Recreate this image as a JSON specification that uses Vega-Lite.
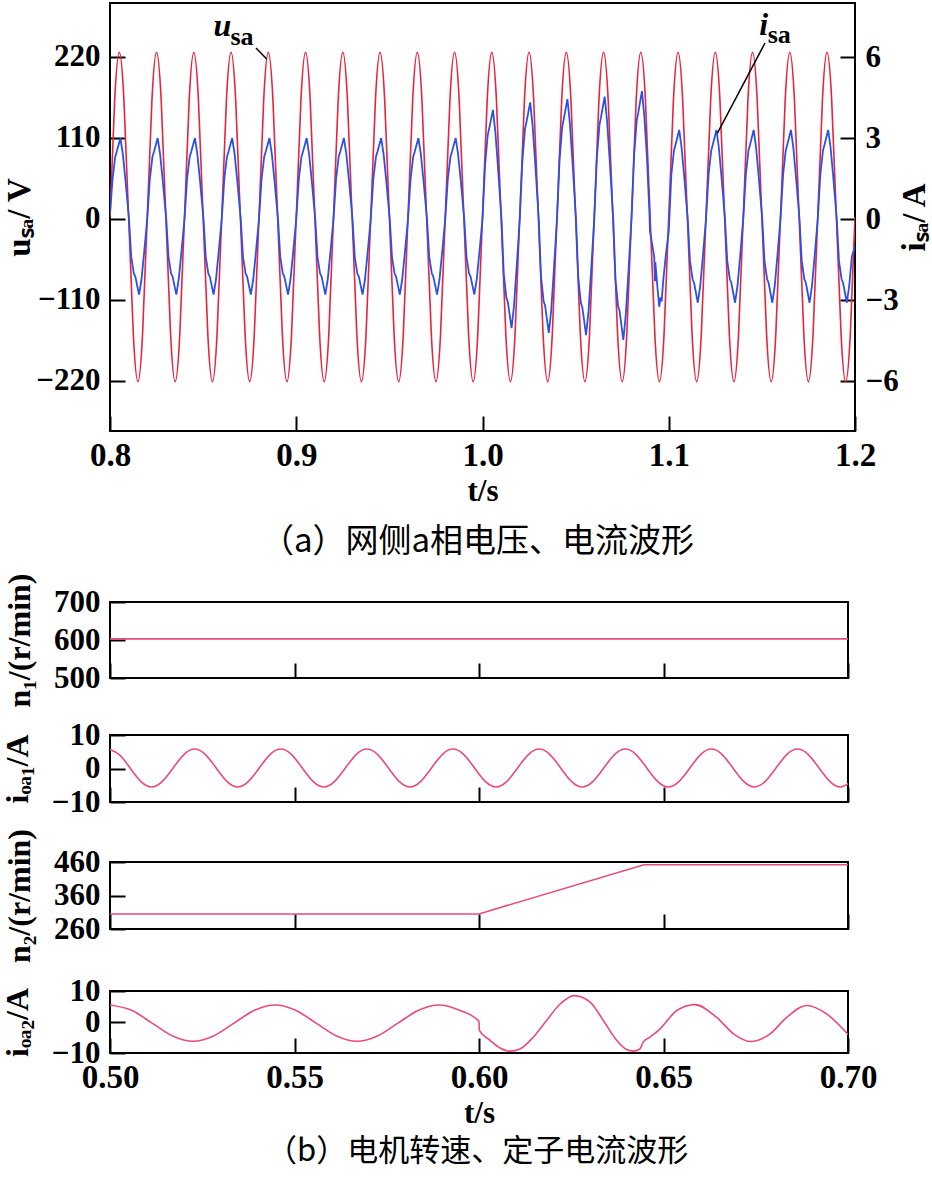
{
  "$schema": "https://vega.github.io/schema/vega-lite/v6.json",
  "background": "white",
  "padding": {"left": 0, "top": 2, "right": 4, "bottom": 0},
  "config": {
    "view": {"stroke": "#000", "strokeWidth": 2},
    "axis": {"domain": false, "grid": false, "tickSize": -15, "tickWidth": 2, "tickColor": "#000", "labelFont": "Liberation Serif", "labelFontWeight": "bold", "labelColor": "#000", "labelOverlap": false, "labelFlush": false, "titleFont": "Liberation Serif", "titleFontWeight": "bold", "titleColor": "#000"},
    "axisX": {"labelFontSize": 33, "labelPadding": 23, "titleFontSize": 31, "titlePadding": 4},
    "axisY": {"labelFontSize": 31, "labelPadding": 25, "titleFontSize": 32},
    "title": {"font": "Noto Sans CJK SC", "fontSize": 33, "fontWeight": "normal", "color": "#000", "anchor": "middle"}
  },
  "datasets": {
    "volt": [
      {"t":0.8,"u":2.5},{"t":0.8025,"u":160.5},{"t":0.805,"u":226},{"t":0.8075,"u":160.5},{"t":0.81,"u":2.5},{"t":0.8125,"u":-155.5},{"t":0.815,"u":-221},{"t":0.8175,"u":-155.5},
      {"t":0.82,"u":2.5},{"t":0.8225,"u":160.5},{"t":0.825,"u":226},{"t":0.8275,"u":160.5},{"t":0.83,"u":2.5},{"t":0.8325,"u":-155.5},{"t":0.835,"u":-221},{"t":0.8375,"u":-155.5},
      {"t":0.84,"u":2.5},{"t":0.8425,"u":160.5},{"t":0.845,"u":226},{"t":0.8475,"u":160.5},{"t":0.85,"u":2.5},{"t":0.8525,"u":-155.5},{"t":0.855,"u":-221},{"t":0.8575,"u":-155.5},
      {"t":0.86,"u":2.5},{"t":0.8625,"u":160.5},{"t":0.865,"u":226},{"t":0.8675,"u":160.5},{"t":0.87,"u":2.5},{"t":0.8725,"u":-155.5},{"t":0.875,"u":-221},{"t":0.8775,"u":-155.5},
      {"t":0.88,"u":2.5},{"t":0.8825,"u":160.5},{"t":0.885,"u":226},{"t":0.8875,"u":160.5},{"t":0.89,"u":2.5},{"t":0.8925,"u":-155.5},{"t":0.895,"u":-221},{"t":0.8975,"u":-155.5},
      {"t":0.9,"u":2.5},{"t":0.9025,"u":160.5},{"t":0.905,"u":226},{"t":0.9075,"u":160.5},{"t":0.91,"u":2.5},{"t":0.9125,"u":-155.5},{"t":0.915,"u":-221},{"t":0.9175,"u":-155.5},
      {"t":0.92,"u":2.5},{"t":0.9225,"u":160.5},{"t":0.925,"u":226},{"t":0.9275,"u":160.5},{"t":0.93,"u":2.5},{"t":0.9325,"u":-155.5},{"t":0.935,"u":-221},{"t":0.9375,"u":-155.5},
      {"t":0.94,"u":2.5},{"t":0.9425,"u":160.5},{"t":0.945,"u":226},{"t":0.9475,"u":160.5},{"t":0.95,"u":2.5},{"t":0.9525,"u":-155.5},{"t":0.955,"u":-221},{"t":0.9575,"u":-155.5},
      {"t":0.96,"u":2.5},{"t":0.9625,"u":160.5},{"t":0.965,"u":226},{"t":0.9675,"u":160.5},{"t":0.97,"u":2.5},{"t":0.9725,"u":-155.5},{"t":0.975,"u":-221},{"t":0.9775,"u":-155.5},
      {"t":0.98,"u":2.5},{"t":0.9825,"u":160.5},{"t":0.985,"u":226},{"t":0.9875,"u":160.5},{"t":0.99,"u":2.5},{"t":0.9925,"u":-155.5},{"t":0.995,"u":-221},{"t":0.9975,"u":-155.5},
      {"t":1.0,"u":2.5},{"t":1.0025,"u":160.5},{"t":1.005,"u":226},{"t":1.0075,"u":160.5},{"t":1.01,"u":2.5},{"t":1.0125,"u":-155.5},{"t":1.015,"u":-221},{"t":1.0175,"u":-155.5},
      {"t":1.02,"u":2.5},{"t":1.0225,"u":160.5},{"t":1.025,"u":226},{"t":1.0275,"u":160.5},{"t":1.03,"u":2.5},{"t":1.0325,"u":-155.5},{"t":1.035,"u":-221},{"t":1.0375,"u":-155.5},
      {"t":1.04,"u":2.5},{"t":1.0425,"u":160.5},{"t":1.045,"u":226},{"t":1.0475,"u":160.5},{"t":1.05,"u":2.5},{"t":1.0525,"u":-155.5},{"t":1.055,"u":-221},{"t":1.0575,"u":-155.5},
      {"t":1.06,"u":2.5},{"t":1.0625,"u":160.5},{"t":1.065,"u":226},{"t":1.0675,"u":160.5},{"t":1.07,"u":2.5},{"t":1.0725,"u":-155.5},{"t":1.075,"u":-221},{"t":1.0775,"u":-155.5},
      {"t":1.08,"u":2.5},{"t":1.0825,"u":160.5},{"t":1.085,"u":226},{"t":1.0875,"u":160.5},{"t":1.09,"u":2.5},{"t":1.0925,"u":-155.5},{"t":1.095,"u":-221},{"t":1.0975,"u":-155.5},
      {"t":1.1,"u":2.5},{"t":1.1025,"u":160.5},{"t":1.105,"u":226},{"t":1.1075,"u":160.5},{"t":1.11,"u":2.5},{"t":1.1125,"u":-155.5},{"t":1.115,"u":-221},{"t":1.1175,"u":-155.5},
      {"t":1.12,"u":2.5},{"t":1.1225,"u":160.5},{"t":1.125,"u":226},{"t":1.1275,"u":160.5},{"t":1.13,"u":2.5},{"t":1.1325,"u":-155.5},{"t":1.135,"u":-221},{"t":1.1375,"u":-155.5},
      {"t":1.14,"u":2.5},{"t":1.1425,"u":160.5},{"t":1.145,"u":226},{"t":1.1475,"u":160.5},{"t":1.15,"u":2.5},{"t":1.1525,"u":-155.5},{"t":1.155,"u":-221},{"t":1.1575,"u":-155.5},
      {"t":1.16,"u":2.5},{"t":1.1625,"u":160.5},{"t":1.165,"u":226},{"t":1.1675,"u":160.5},{"t":1.17,"u":2.5},{"t":1.1725,"u":-155.5},{"t":1.175,"u":-221},{"t":1.1775,"u":-155.5},
      {"t":1.18,"u":2.5},{"t":1.1825,"u":160.5},{"t":1.185,"u":226},{"t":1.1875,"u":160.5},{"t":1.19,"u":2.5},{"t":1.1925,"u":-155.5},{"t":1.195,"u":-221},{"t":1.1975,"u":-155.5},
      {"t":1.2,"u":2.5}
    ],
    "curr": [
      {"t":0.8,"i":0.2},{"t":0.8014,"i":1.5},{"t":0.8028,"i":2.31},{"t":0.8036,"i":2.49},{"t":0.8056,"i":3.0},{"t":0.8069,"i":2.4},{"t":0.8083,"i":1.44},{"t":0.8102,"i":0},{"t":0.8114,"i":-1.4},{"t":0.8128,"i":-2.02},{"t":0.8136,"i":-2.13},{"t":0.8156,"i":-2.8},{"t":0.8169,"i":-2.24},{"t":0.8183,"i":-1.26},
      {"t":0.82,"i":0},{"t":0.8214,"i":1.5},{"t":0.8228,"i":2.31},{"t":0.8236,"i":2.49},{"t":0.8256,"i":3.0},{"t":0.8269,"i":2.4},{"t":0.8283,"i":1.44},{"t":0.8302,"i":0},{"t":0.8314,"i":-1.4},{"t":0.8328,"i":-2.02},{"t":0.8336,"i":-2.13},{"t":0.8356,"i":-2.8},{"t":0.8369,"i":-2.24},{"t":0.8383,"i":-1.26},
      {"t":0.84,"i":0},{"t":0.8414,"i":1.5},{"t":0.8428,"i":2.31},{"t":0.8436,"i":2.49},{"t":0.8456,"i":3.0},{"t":0.8469,"i":2.4},{"t":0.8483,"i":1.44},{"t":0.8502,"i":0},{"t":0.8514,"i":-1.4},{"t":0.8528,"i":-2.02},{"t":0.8536,"i":-2.13},{"t":0.8556,"i":-2.8},{"t":0.8569,"i":-2.24},{"t":0.8583,"i":-1.26},
      {"t":0.86,"i":0},{"t":0.8614,"i":1.5},{"t":0.8628,"i":2.31},{"t":0.8636,"i":2.49},{"t":0.8656,"i":3.0},{"t":0.8669,"i":2.4},{"t":0.8683,"i":1.44},{"t":0.8702,"i":0},{"t":0.8714,"i":-1.4},{"t":0.8728,"i":-2.02},{"t":0.8736,"i":-2.13},{"t":0.8756,"i":-2.8},{"t":0.8769,"i":-2.24},{"t":0.8783,"i":-1.26},
      {"t":0.88,"i":0},{"t":0.8814,"i":1.5},{"t":0.8828,"i":2.31},{"t":0.8836,"i":2.49},{"t":0.8856,"i":3.0},{"t":0.8869,"i":2.4},{"t":0.8883,"i":1.44},{"t":0.8902,"i":0},{"t":0.8914,"i":-1.4},{"t":0.8928,"i":-2.02},{"t":0.8936,"i":-2.13},{"t":0.8956,"i":-2.8},{"t":0.8969,"i":-2.24},{"t":0.8983,"i":-1.26},
      {"t":0.9,"i":0},{"t":0.9014,"i":1.5},{"t":0.9028,"i":2.31},{"t":0.9036,"i":2.49},{"t":0.9056,"i":3.0},{"t":0.9069,"i":2.4},{"t":0.9083,"i":1.44},{"t":0.9102,"i":0},{"t":0.9114,"i":-1.4},{"t":0.9128,"i":-2.02},{"t":0.9136,"i":-2.13},{"t":0.9156,"i":-2.8},{"t":0.9169,"i":-2.24},{"t":0.9183,"i":-1.26},
      {"t":0.92,"i":0},{"t":0.9214,"i":1.5},{"t":0.9228,"i":2.31},{"t":0.9236,"i":2.49},{"t":0.9256,"i":3.0},{"t":0.9269,"i":2.4},{"t":0.9283,"i":1.44},{"t":0.9302,"i":0},{"t":0.9314,"i":-1.4},{"t":0.9328,"i":-2.02},{"t":0.9336,"i":-2.13},{"t":0.9356,"i":-2.8},{"t":0.9369,"i":-2.24},{"t":0.9383,"i":-1.26},
      {"t":0.94,"i":0},{"t":0.9414,"i":1.5},{"t":0.9428,"i":2.31},{"t":0.9436,"i":2.49},{"t":0.9456,"i":3.0},{"t":0.9469,"i":2.4},{"t":0.9483,"i":1.44},{"t":0.9502,"i":0},{"t":0.9514,"i":-1.4},{"t":0.9528,"i":-2.02},{"t":0.9536,"i":-2.13},{"t":0.9556,"i":-2.8},{"t":0.9569,"i":-2.24},{"t":0.9583,"i":-1.26},
      {"t":0.96,"i":0},{"t":0.9614,"i":1.5},{"t":0.9628,"i":2.31},{"t":0.9636,"i":2.49},{"t":0.9656,"i":3.0},{"t":0.9669,"i":2.4},{"t":0.9683,"i":1.44},{"t":0.9702,"i":0},{"t":0.9714,"i":-1.4},{"t":0.9728,"i":-2.02},{"t":0.9736,"i":-2.13},{"t":0.9756,"i":-2.8},{"t":0.9769,"i":-2.24},{"t":0.9783,"i":-1.26},
      {"t":0.98,"i":0},{"t":0.9814,"i":1.5},{"t":0.9828,"i":2.31},{"t":0.9836,"i":2.49},{"t":0.9856,"i":3.0},{"t":0.9869,"i":2.4},{"t":0.9883,"i":1.44},{"t":0.9902,"i":0},{"t":0.9914,"i":-1.4},{"t":0.9928,"i":-2.02},{"t":0.9936,"i":-2.13},{"t":0.9956,"i":-2.8},{"t":0.9969,"i":-2.24},{"t":0.9983,"i":-1.26},
      {"t":1.0,"i":0},{"t":1.0014,"i":2.02},{"t":1.0028,"i":3.11},{"t":1.0036,"i":3.35},{"t":1.0056,"i":4.04},{"t":1.0069,"i":3.23},{"t":1.0083,"i":1.94},{"t":1.0102,"i":0},{"t":1.0114,"i":-2.02},{"t":1.0128,"i":-2.91},{"t":1.0136,"i":-3.07},{"t":1.0156,"i":-4.04},{"t":1.0169,"i":-3.23},{"t":1.0183,"i":-1.82},
      {"t":1.02,"i":0},{"t":1.0214,"i":2.16},{"t":1.0228,"i":3.33},{"t":1.0236,"i":3.59},{"t":1.0256,"i":4.32},{"t":1.0269,"i":3.46},{"t":1.0283,"i":2.07},{"t":1.0302,"i":0},{"t":1.0314,"i":-2.11},{"t":1.0328,"i":-3.04},{"t":1.0336,"i":-3.21},{"t":1.0356,"i":-4.22},{"t":1.0369,"i":-3.38},{"t":1.0383,"i":-1.9},
      {"t":1.04,"i":0},{"t":1.0414,"i":2.22},{"t":1.0428,"i":3.42},{"t":1.0436,"i":3.69},{"t":1.0456,"i":4.44},{"t":1.0469,"i":3.55},{"t":1.0483,"i":2.13},{"t":1.0502,"i":0},{"t":1.0514,"i":-2.15},{"t":1.0528,"i":-3.1},{"t":1.0536,"i":-3.27},{"t":1.0556,"i":-4.3},{"t":1.0569,"i":-3.44},{"t":1.0583,"i":-1.94},
      {"t":1.06,"i":0},{"t":1.0614,"i":2.27},{"t":1.0628,"i":3.49},{"t":1.0636,"i":3.76},{"t":1.0656,"i":4.53},{"t":1.0669,"i":3.62},{"t":1.0683,"i":2.17},{"t":1.0702,"i":0},{"t":1.0714,"i":-2.24},{"t":1.0728,"i":-3.23},{"t":1.0736,"i":-3.4},{"t":1.0756,"i":-4.48},{"t":1.0769,"i":-3.58},{"t":1.0783,"i":-2.02},
      {"t":1.08,"i":0},{"t":1.0814,"i":2.37},{"t":1.0828,"i":3.65},{"t":1.0836,"i":3.93},{"t":1.0856,"i":4.74},{"t":1.0869,"i":3.79},{"t":1.0883,"i":2.28},{"t":1.0897,"i":0.1},{"t":1.0899,"i":-0.45},{"t":1.091,"i":-0.9},{"t":1.0922,"i":-1.4},{"t":1.0926,"i":-2.3},{"t":1.0928,"i":-1.6},{"t":1.094,"i":-2.6},{"t":1.0949,"i":-3.25},{"t":1.0956,"i":-2.9},{"t":1.0962,"i":-3.05},{"t":1.097,"i":-2.3},{"t":1.0985,"i":-1.3},
      {"t":1.1,"i":-0.45},{"t":1.1014,"i":1.65},{"t":1.1028,"i":2.54},{"t":1.1036,"i":2.74},{"t":1.1056,"i":3.3},{"t":1.1069,"i":2.64},{"t":1.1083,"i":1.58},{"t":1.1102,"i":0},{"t":1.1114,"i":-1.55},{"t":1.1128,"i":-2.23},{"t":1.1136,"i":-2.36},{"t":1.1156,"i":-3.1},{"t":1.1169,"i":-2.48},{"t":1.1183,"i":-1.4},
      {"t":1.12,"i":0},{"t":1.1214,"i":1.65},{"t":1.1228,"i":2.54},{"t":1.1236,"i":2.74},{"t":1.1256,"i":3.3},{"t":1.1269,"i":2.64},{"t":1.1283,"i":1.58},{"t":1.1302,"i":0},{"t":1.1314,"i":-1.55},{"t":1.1328,"i":-2.23},{"t":1.1336,"i":-2.36},{"t":1.1356,"i":-3.1},{"t":1.1369,"i":-2.48},{"t":1.1383,"i":-1.4},
      {"t":1.14,"i":0},{"t":1.1414,"i":1.65},{"t":1.1428,"i":2.54},{"t":1.1436,"i":2.74},{"t":1.1456,"i":3.3},{"t":1.1469,"i":2.64},{"t":1.1483,"i":1.58},{"t":1.1502,"i":0},{"t":1.1514,"i":-1.55},{"t":1.1528,"i":-2.23},{"t":1.1536,"i":-2.36},{"t":1.1556,"i":-3.1},{"t":1.1569,"i":-2.48},{"t":1.1583,"i":-1.4},
      {"t":1.16,"i":0},{"t":1.1614,"i":1.65},{"t":1.1628,"i":2.54},{"t":1.1636,"i":2.74},{"t":1.1656,"i":3.3},{"t":1.1669,"i":2.64},{"t":1.1683,"i":1.58},{"t":1.1702,"i":0},{"t":1.1714,"i":-1.55},{"t":1.1728,"i":-2.23},{"t":1.1736,"i":-2.36},{"t":1.1756,"i":-3.1},{"t":1.1769,"i":-2.48},{"t":1.1783,"i":-1.4},
      {"t":1.18,"i":0},{"t":1.1814,"i":1.65},{"t":1.1828,"i":2.54},{"t":1.1836,"i":2.74},{"t":1.1856,"i":3.3},{"t":1.1869,"i":2.64},{"t":1.1883,"i":1.58},{"t":1.1902,"i":0},{"t":1.1914,"i":-1.55},{"t":1.1928,"i":-2.23},{"t":1.1936,"i":-2.36},{"t":1.1956,"i":-3.1},{"t":1.1969,"i":-2.48},{"t":1.1983,"i":-1.4},
      {"t":1.2,"i":-1.0}
    ],
    "ioa1": [
      {"t":0.4996,"v":5.8},{"t":0.50252,"v":4.15},{"t":0.50544,"v":0.15},{"t":0.50835,"v":-3.85},{"t":0.51127,"v":-5.5},{"t":0.51419,"v":-3.85},{"t":0.51711,"v":0.15},{"t":0.52002,"v":4.15},
      {"t":0.52294,"v":5.8},{"t":0.52586,"v":4.15},{"t":0.52878,"v":0.15},{"t":0.53169,"v":-3.85},{"t":0.53461,"v":-5.5},{"t":0.53753,"v":-3.85},{"t":0.54045,"v":0.15},{"t":0.54336,"v":4.15},
      {"t":0.54628,"v":5.8},{"t":0.5492,"v":4.15},{"t":0.55212,"v":0.15},{"t":0.55503,"v":-3.85},{"t":0.55795,"v":-5.5},{"t":0.56087,"v":-3.85},{"t":0.56379,"v":0.15},{"t":0.5667,"v":4.15},
      {"t":0.56962,"v":5.8},{"t":0.57254,"v":4.15},{"t":0.57546,"v":0.15},{"t":0.57837,"v":-3.85},{"t":0.58129,"v":-5.5},{"t":0.58421,"v":-3.85},{"t":0.58713,"v":0.15},{"t":0.59004,"v":4.15},
      {"t":0.59296,"v":5.8},{"t":0.59588,"v":4.15},{"t":0.5988,"v":0.15},{"t":0.60171,"v":-3.85},{"t":0.60463,"v":-5.5},{"t":0.60755,"v":-3.85},{"t":0.61047,"v":0.15},{"t":0.61338,"v":4.15},
      {"t":0.6163,"v":5.8},{"t":0.61922,"v":4.15},{"t":0.62214,"v":0.15},{"t":0.62505,"v":-3.85},{"t":0.62797,"v":-5.5},{"t":0.63089,"v":-3.85},{"t":0.63381,"v":0.15},{"t":0.63672,"v":4.15},
      {"t":0.63964,"v":5.8},{"t":0.64256,"v":4.15},{"t":0.64548,"v":0.15},{"t":0.64839,"v":-3.85},{"t":0.65131,"v":-5.5},{"t":0.65423,"v":-3.85},{"t":0.65715,"v":0.15},{"t":0.66006,"v":4.15},
      {"t":0.66298,"v":5.8},{"t":0.6659,"v":4.15},{"t":0.66882,"v":0.15},{"t":0.67173,"v":-3.85},{"t":0.67465,"v":-5.5},{"t":0.67757,"v":-3.85},{"t":0.68049,"v":0.15},{"t":0.6834,"v":4.15},
      {"t":0.68632,"v":5.8},{"t":0.68924,"v":4.15},{"t":0.69216,"v":0.15},{"t":0.69507,"v":-3.85},{"t":0.69799,"v":-5.5},{"t":0.70091,"v":-3.85}
    ],
    "ioa2": [
      {"t":0.5,"v":5.5},{"t":0.50585,"v":3.8},{"t":0.5114,"v":-0.35},{"t":0.51696,"v":-4.5},{"t":0.52251,"v":-6.2},{"t":0.52807,"v":-4.5},{"t":0.53362,"v":-0.35},{"t":0.53918,"v":3.8},
      {"t":0.54473,"v":5.5},{"t":0.55029,"v":3.8},{"t":0.55584,"v":-0.35},{"t":0.5614,"v":-4.5},{"t":0.56695,"v":-6.2},{"t":0.57251,"v":-4.5},{"t":0.57806,"v":-0.35},{"t":0.58362,"v":3.8},
      {"t":0.58917,"v":5.5},{"t":0.59473,"v":3.8},{"t":0.6,"v":0.2},{"t":0.6001,"v":-2.7},{"t":0.603,"v":-5.9},{"t":0.6057,"v":-8.4},{"t":0.6084,"v":-9.4},{"t":0.6111,"v":-8.7},
      {"t":0.6147,"v":-4.9},{"t":0.6183,"v":0.5},{"t":0.622,"v":5.8},{"t":0.6258,"v":8.5},{"t":0.6301,"v":6.4},{"t":0.6337,"v":0.5},{"t":0.6373,"v":-5.9},{"t":0.64,"v":-8.9},
      {"t":0.6418,"v":-9.4},{"t":0.6436,"v":-8.7},{"t":0.6445,"v":-6.5},{"t":0.6463,"v":-4.9},{"t":0.6491,"v":-2.2},{"t":0.6536,"v":3.7},{"t":0.6585,"v":5.6},{"t":0.6644,"v":1.5},
      {"t":0.669,"v":-3.8},{"t":0.6737,"v":-6.3},{"t":0.6789,"v":-3.8},{"t":0.6834,"v":1.5},{"t":0.6888,"v":5.3},{"t":0.6942,"v":2.6},{"t":0.7,"v":-4.0}
    ]
  },
  "spacing": 11,
  "vconcat": [
    {
      "width": 745,
      "height": 428,
      "title": {"text": "（a）网侧a相电压、电流波形", "orient": "bottom", "offset": 20, "dx": -5},
      "layer": [
        {
          "data": {"name": "volt"},
          "mark": {"type": "line", "color": "#e8243c", "strokeWidth": 1.6, "interpolate": "natural", "clip": true},
          "encoding": {
            "x": {"field": "t", "type": "quantitative", "scale": {"domain": [0.8, 1.2], "nice": false}, "axis": {"values": [0.8, 0.9, 1.0, 1.1, 1.2], "format": ".1f", "title": "t/s"}},
            "y": {"field": "u", "type": "quantitative", "scale": {"domain": [-288, 293], "nice": false}, "axis": {"orient": "left", "values": [-220, -110, 0, 110, 220], "title": "uₛₐ/ V", "titleFontSize": 33, "titlePadding": -1}}
          }
        },
        {
          "data": {"name": "curr"},
          "mark": {"type": "line", "color": "#2b50e8", "strokeWidth": 1.8, "clip": true},
          "encoding": {
            "x": {"field": "t", "type": "quantitative"},
            "y": {"field": "i", "type": "quantitative", "scale": {"domain": [-7.85, 8.0], "nice": false}, "axis": {"orient": "right", "values": [-6, -3, 0, 3, 6], "title": "iₛₐ/ A", "titleFontSize": 33, "titleAngle": 270, "titleBaseline": "top", "titlePadding": 0}}
          }
        },
        {
          "data": {"values": [{"t1": 0.87839, "v1": 231.8, "t2": 0.88413, "v2": 216.9}]},
          "mark": {"type": "rule", "color": "#000", "strokeWidth": 1.5},
          "encoding": {
            "x": {"field": "t1", "type": "quantitative"},
            "x2": {"field": "t2"},
            "y": {"field": "v1", "type": "quantitative", "scale": {"domain": [-288, 293], "nice": false}, "axis": null},
            "y2": {"field": "v2"}
          }
        },
        {
          "data": {"values": [{"t": 0.8604, "v": 247.6, "s": "u"}]},
          "mark": {"type": "text", "font": "Liberation Serif", "fontStyle": "italic", "fontWeight": "bold", "fontSize": 32, "align": "center", "baseline": "alphabetic", "color": "#000"},
          "encoding": {
            "x": {"field": "t", "type": "quantitative"},
            "y": {"field": "v", "type": "quantitative", "scale": {"domain": [-288, 293], "nice": false}, "axis": null},
            "text": {"field": "s"}
          }
        },
        {
          "data": {"values": [{"t": 0.87087, "v": 236.3, "s": "sa"}]},
          "mark": {"type": "text", "font": "Liberation Serif", "fontWeight": "bold", "fontSize": 26, "align": "center", "baseline": "alphabetic", "color": "#000"},
          "encoding": {
            "x": {"field": "t", "type": "quantitative"},
            "y": {"field": "v", "type": "quantitative", "scale": {"domain": [-288, 293], "nice": false}, "axis": null},
            "text": {"field": "s"}
          }
        },
        {
          "data": {"values": [{"t1": 1.15168, "v1": 6.519, "t2": 1.12607, "v2": 3.174}]},
          "mark": {"type": "rule", "color": "#000", "strokeWidth": 1.5},
          "encoding": {
            "x": {"field": "t1", "type": "quantitative"},
            "x2": {"field": "t2"},
            "y": {"field": "v1", "type": "quantitative", "scale": {"domain": [-7.85, 8.0], "nice": false}, "axis": null},
            "y2": {"field": "v2"}
          }
        },
        {
          "data": {"values": [{"t": 1.15104, "v": 6.815, "s": "i"}]},
          "mark": {"type": "text", "font": "Liberation Serif", "fontStyle": "italic", "fontWeight": "bold", "fontSize": 32, "align": "center", "baseline": "alphabetic", "color": "#000"},
          "encoding": {
            "x": {"field": "t", "type": "quantitative"},
            "y": {"field": "v", "type": "quantitative", "scale": {"domain": [-7.85, 8.0], "nice": false}, "axis": null},
            "text": {"field": "s"}
          }
        },
        {
          "data": {"values": [{"t": 1.15931, "v": 6.507, "s": "sa"}]},
          "mark": {"type": "text", "font": "Liberation Serif", "fontWeight": "bold", "fontSize": 26, "align": "center", "baseline": "alphabetic", "color": "#000"},
          "encoding": {
            "x": {"field": "t", "type": "quantitative"},
            "y": {"field": "v", "type": "quantitative", "scale": {"domain": [-7.85, 8.0], "nice": false}, "axis": null},
            "text": {"field": "s"}
          }
        }
      ],
      "resolve": {"scale": {"y": "independent"}}
    },
    {
      "title": {"text": "（b）电机转速、定子电流波形", "orient": "bottom", "offset": 8, "dx": 38, "fontSize": 31},
      "bounds": "flush",
      "spacing": 57,
      "vconcat": [
        {
          "width": 738, "height": 76,
          "data": {"values": [{"t": 0.5, "n": 603}, {"t": 0.7, "n": 603}]},
          "mark": {"type": "line", "color": "#e84c7d", "strokeWidth": 1.6, "clip": true},
          "encoding": {
            "x": {"field": "t", "type": "quantitative", "scale": {"domain": [0.5, 0.7], "nice": false}, "axis": {"values": [0.5, 0.55, 0.6, 0.65, 0.7], "labels": false, "title": null}},
            "y": {"field": "n", "type": "quantitative", "scale": {"domain": [500, 700], "nice": false}, "axis": {"values": [500, 600, 700], "title": "n₁/(r/min)", "titlePadding": 17}}
          }
        },
        {
          "bounds": "flush",
          "spacing": 60,
          "vconcat": [
            {
              "width": 738, "height": 67,
              "data": {"name": "ioa1"},
              "mark": {"type": "line", "color": "#e84c7d", "strokeWidth": 1.6, "interpolate": "natural", "clip": true},
              "encoding": {
                "x": {"field": "t", "type": "quantitative", "scale": {"domain": [0.5, 0.7], "nice": false}, "axis": {"values": [0.5, 0.55, 0.6, 0.65, 0.7], "labels": false, "title": null}},
                "y": {"field": "v", "type": "quantitative", "scale": {"domain": [-10, 10], "nice": false}, "axis": {"values": [-10, 0, 10], "title": "iₒₐ₁/A", "titlePadding": 17}}
              }
            },
            {
              "bounds": "flush",
              "spacing": 62,
              "vconcat": [
                {
                  "width": 738, "height": 67,
                  "data": {"values": [{"t": 0.5, "n": 305}, {"t": 0.6, "n": 305}, {"t": 0.6447, "n": 452}, {"t": 0.7, "n": 452}]},
                  "mark": {"type": "line", "color": "#e84c7d", "strokeWidth": 1.6, "clip": true},
                  "encoding": {
                    "x": {"field": "t", "type": "quantitative", "scale": {"domain": [0.5, 0.7], "nice": false}, "axis": {"values": [0.5, 0.55, 0.6, 0.65, 0.7], "labels": false, "title": null}},
                    "y": {"field": "n", "type": "quantitative", "scale": {"domain": [260, 460], "nice": false}, "axis": {"values": [260, 360, 460], "title": "n₂/(r/min)", "titlePadding": 17}}
                  }
                },
                {
                  "width": 738, "height": 62,
                  "data": {"name": "ioa2"},
                  "mark": {"type": "line", "color": "#e84c7d", "strokeWidth": 1.6, "interpolate": "monotone", "clip": true},
                  "encoding": {
                    "x": {"field": "t", "type": "quantitative", "scale": {"domain": [0.5, 0.7], "nice": false}, "axis": {"values": [0.5, 0.55, 0.6, 0.65, 0.7], "format": ".2f", "title": "t/s"}},
                    "y": {"field": "v", "type": "quantitative", "scale": {"domain": [-10, 10], "nice": false}, "axis": {"values": [-10, 0, 10], "title": "iₒₐ₂/A", "titlePadding": 17}}
                  }
                }
              ]
            }
          ]
        }
      ]
    }
  ]
}
